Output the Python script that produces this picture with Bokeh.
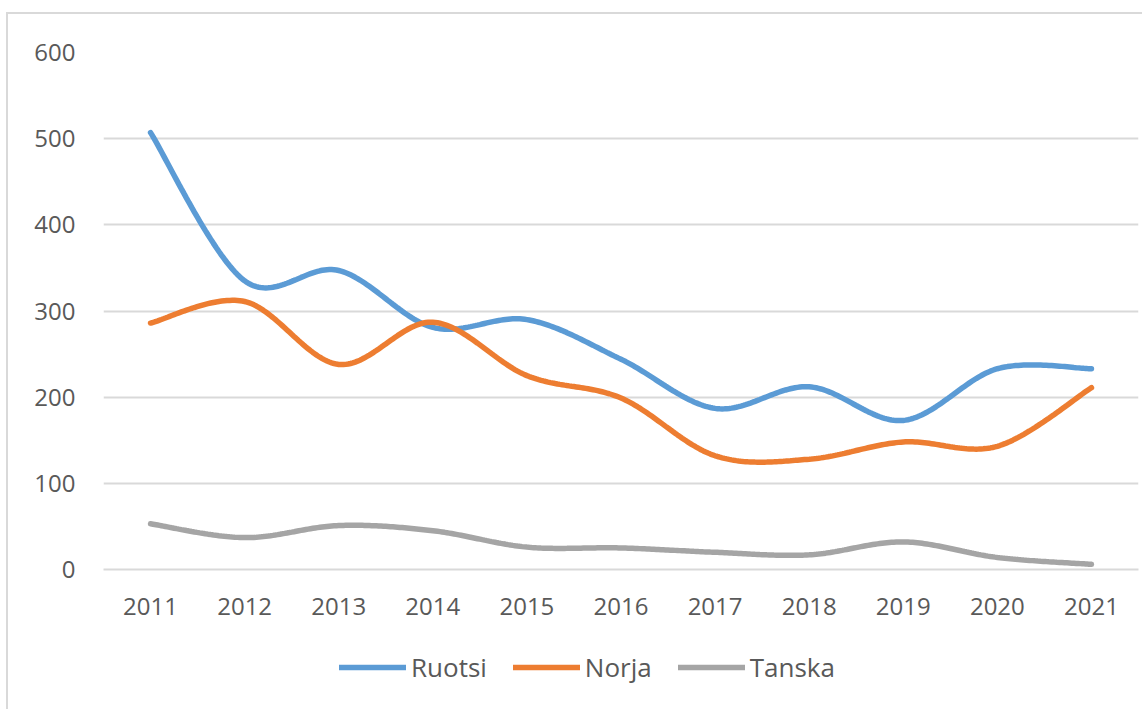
import numpy as np
from bokeh.plotting import figure
from bokeh.layouts import column, row
from bokeh.models import Range1d, FixedTicker, Legend, LegendItem, ColumnDataSource, Spacer
from bokeh.embed import file_html
from bokeh.resources import INLINE

years = [2011, 2012, 2013, 2014, 2015, 2016, 2017, 2018, 2019, 2020, 2021]
ruotsi = [507, 335, 347, 281, 290, 244, 187, 212, 173, 233, 233]
norja = [286, 311, 238, 287, 225, 199, 132, 128, 148, 143, 211]
tanska = [53, 37, 51, 45, 26, 25, 20, 17, 32, 14, 6]
series_names = ["Ruotsi", "Norja", "Tanska"]
colors = ["#5b9bd5", "#ed7d31", "#a5a5a5"]
y_ticks = [0, 100, 200, 300, 400, 500, 600]


def smooth(xs, ys, n=40):
    """Excel-like smoothed line (Catmull-Rom via cubic Bezier) through the points."""
    xs = np.asarray(xs, float)
    ys = np.asarray(ys, float)
    px, py = [], []
    m = len(xs)
    for i in range(m - 1):
        x0, y0 = (xs[i - 1], ys[i - 1]) if i > 0 else (xs[i], ys[i])
        x1, y1 = xs[i], ys[i]
        x2, y2 = xs[i + 1], ys[i + 1]
        x3, y3 = (xs[i + 2], ys[i + 2]) if i + 2 < m else (xs[i + 1], ys[i + 1])
        c1x, c1y = x1 + (x2 - x0) / 6, y1 + (y2 - y0) / 6
        c2x, c2y = x2 - (x3 - x1) / 6, y2 - (y3 - y1) / 6
        t = np.linspace(0, 1, n, endpoint=(i == m - 2))
        a = (1 - t) ** 3
        b = 3 * (1 - t) ** 2 * t
        c = 3 * (1 - t) * t ** 2
        d = t ** 3
        px.extend(a * x1 + b * c1x + c * c2x + d * x2)
        py.extend(a * y1 + b * c1y + c * c2y + d * y2)
    return px, py


font = "Open Sans"
lab_color = "#595959"
border = "2px solid #d9d9d9"

p = figure(width=1136, height=611, output_backend="svg", toolbar_location=None,
           x_range=Range1d(2010.5, 2021.5), y_range=Range1d(0, 600),
           min_border_left=95, min_border_right=6, min_border_top=38, min_border_bottom=56)
p.styles = {"border-top": border, "border-left": border}
p.outline_line_color = None
p.background_fill_color = "white"
p.border_fill_color = "white"

p.xaxis.ticker = FixedTicker(ticks=years)
p.yaxis.ticker = FixedTicker(ticks=y_ticks)
p.xaxis.major_tick_line_color = None
p.xaxis.minor_tick_line_color = None
p.yaxis.major_tick_line_color = None
p.yaxis.minor_tick_line_color = None
p.yaxis.axis_line_color = None
p.xaxis.axis_line_color = "#d9d9d9"
p.xaxis.axis_line_width = 2
p.xaxis.major_label_text_font = font
p.yaxis.major_label_text_font = font
p.xaxis.major_label_text_font_size = "24px"
p.yaxis.major_label_text_font_size = "24px"
p.xaxis.major_label_text_color = lab_color
p.yaxis.major_label_text_color = lab_color
p.xaxis.major_label_standoff = 22
p.yaxis.major_label_standoff = 22
p.xgrid.grid_line_color = None
p.ygrid.grid_line_color = "#d9d9d9"
p.ygrid.grid_line_width = 2

# legend panel (separate strip below the chart)
q = figure(width=1136, height=86, output_backend="svg", toolbar_location=None,
           x_range=Range1d(0, 1), y_range=Range1d(0, 1),
           x_axis_location=None, y_axis_location=None,
           min_border_left=0, min_border_right=0, min_border_top=0, min_border_bottom=0)
q.styles = {"border-left": border}
q.outline_line_color = None
q.xgrid.grid_line_color = None
q.ygrid.grid_line_color = None
q.border_fill_color = "white"

items = []
for name, vals, col in zip(series_names, [ruotsi, norja, tanska], colors):
    sx, sy = smooth(years, vals)
    src = ColumnDataSource(dict(x=sx, y=sy))
    p.line("x", "y", source=src, line_color=col, line_width=5.5, line_cap="round")
    # legend proxy line, kept outside the visible range of the legend strip
    r = q.line(x=[5, 6], y=[5, 5], line_color=col, line_width=5.5, line_cap="round")
    items.append(LegendItem(label=name, renderers=[r]))

legend = Legend(items=items, orientation="horizontal", location=(236, 24),
                label_text_font=font, label_text_font_size="26px",
                label_text_color=lab_color, glyph_width=67, glyph_height=30,
                label_standoff=5, spacing=26, border_line_color=None,
                background_fill_alpha=0, margin=0, padding=0)
q.add_layout(legend)

layout = column(Spacer(width=1142, height=12),
                row(Spacer(width=6, height=697), column(p, q, spacing=0), spacing=0),
                spacing=0)

open("out.html", "w").write(file_html(layout, INLINE))
